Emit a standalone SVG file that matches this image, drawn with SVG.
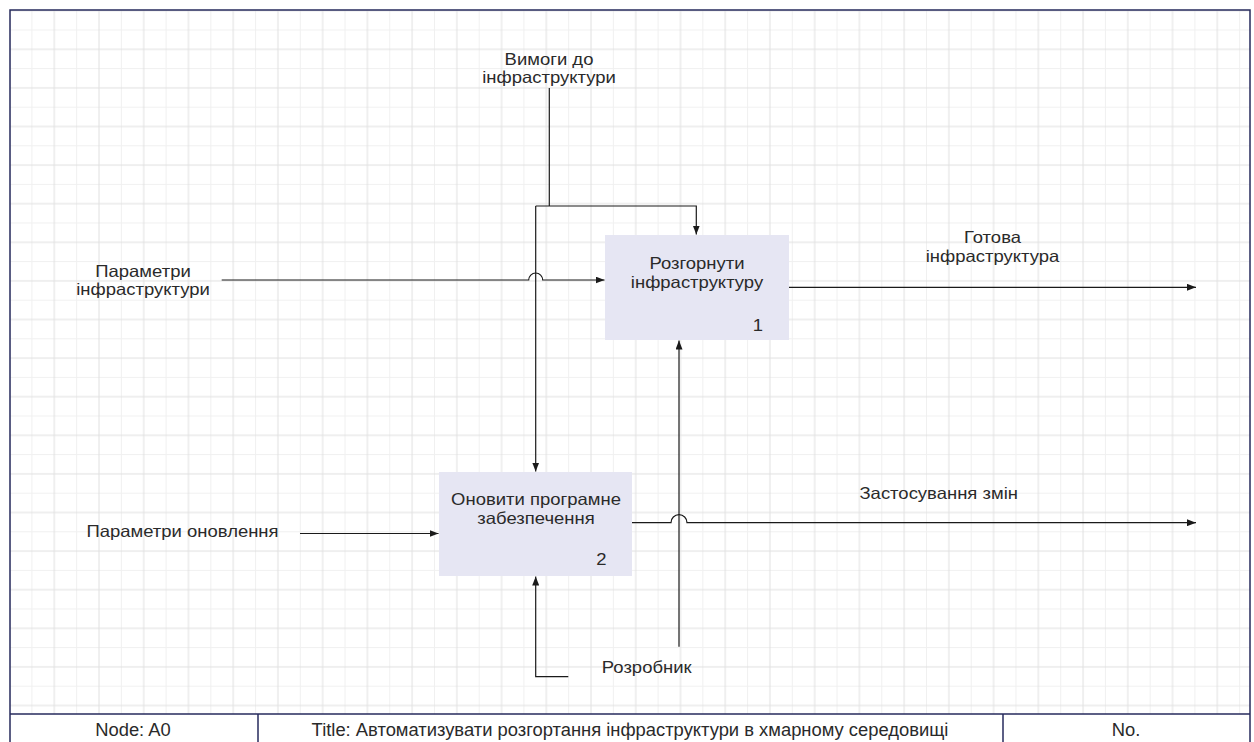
<svg xmlns="http://www.w3.org/2000/svg" width="1254" height="742" viewBox="0 0 1254 742">
  <style>
    .lbl { font-family: "Liberation Sans", Arial, sans-serif; font-size: 16.5px; fill: #2a2a2a; text-anchor: middle; }
    .tb { font-family: "Liberation Sans", Arial, sans-serif; font-size: 17.5px; fill: #2a2a2a; text-anchor: middle; }
    .box { fill: #e6e6f3; stroke: none; }
    .conn { fill: none; stroke: #1a1a1a; stroke-width: 1.2; }
    .frame { fill: none; stroke: #262a5c; stroke-width: 1.5; }
  </style>
  <defs>
    <pattern id="grid" x="31.4" y="29.5" width="44.73" height="38.6" patternUnits="userSpaceOnUse">
      <rect x="0" y="0" width="1" height="38.6" fill="#f0f0f0"/>
      <rect x="0" y="0" width="44.73" height="1" fill="#f0f0f0"/>
      <rect x="22.37" y="0" width="1" height="38.6" fill="#e0e0e0"/>
      <rect x="0" y="19.3" width="44.73" height="1" fill="#e0e0e0"/>
    </pattern>
    <marker id="arrow" markerUnits="userSpaceOnUse" markerWidth="9" markerHeight="7" refX="9" refY="3.5" orient="auto">
      <path d="M0,0 L9,3.5 L0,7 z" fill="#1a1a1a"/>
    </marker>
  </defs>

  <!-- sheet with grid and border -->
  <rect x="0" y="0" width="1254" height="742" fill="#ffffff"/>
  <rect x="10" y="10" width="1240" height="704" fill="url(#grid)"/>
  <rect class="frame" x="10" y="10" width="1240" height="745"/>

  <!-- title bar -->
  <g id="title-bar">
    <line class="frame" x1="10" y1="714" x2="1250" y2="714"/>
    <line class="frame" x1="258" y1="714" x2="258" y2="742"/>
    <line class="frame" x1="1003" y1="714" x2="1003" y2="742"/>
    <text class="tb" transform="translate(133 0) scale(1.05 1)" x="0" y="736">Node: A0</text>
    <text class="tb" transform="translate(630 0) scale(1.05 1)" x="0" y="736">Title: Автоматизувати розгортання інфраструктури в хмарному середовищі</text>
    <text class="tb" transform="translate(1126 0) scale(1.05 1)" x="0" y="736">No.</text>
  </g>

  <!-- activity boxes -->
  <g id="node-1">
    <rect class="box" x="605" y="235" width="184" height="105"/>
    <text class="lbl" transform="translate(697 0) scale(1.12 1)" x="0" y="269.5">Розгорнути</text>
    <text class="lbl" transform="translate(697 0) scale(1.12 1)" x="0" y="288">інфраструктуру</text>
    <text class="lbl" transform="translate(758 0) scale(1.12 1)" x="0" y="331">1</text>
  </g>
  <g id="node-2">
    <rect class="box" x="439" y="472" width="193" height="104"/>
    <text class="lbl" transform="translate(536 0) scale(1.12 1)" x="0" y="505.5">Оновити програмне</text>
    <text class="lbl" transform="translate(536 0) scale(1.12 1)" x="0" y="524.5">забезпечення</text>
    <text class="lbl" transform="translate(601.5 0) scale(1.12 1)" x="0" y="565">2</text>
  </g>

  <!-- arrows -->
  <g id="connectors">
    <path class="conn" d="M549.3,88 V206" stroke-width="2.4"/>
    <path class="conn" d="M535.7,206 H696.3 V234.5" marker-end="url(#arrow)"/>
    <path class="conn" d="M535.7,206 V471.5" marker-end="url(#arrow)"/>
    <path class="conn" d="M221.7,280 H528.7 A7,7 0 0 1 542.7,280 H604.5" marker-end="url(#arrow)"/>
    <path class="conn" d="M789,287.3 H1196" marker-end="url(#arrow)"/>
    <path class="conn" d="M300,533.5 H438.5" marker-end="url(#arrow)"/>
    <path class="conn" d="M632,522.7 H671 A8,8 0 0 1 687,522.7 H1196" marker-end="url(#arrow)"/>
    <path class="conn" d="M679,646.7 V340.5" marker-end="url(#arrow)"/>
    <path class="conn" d="M568.3,676.7 H535.7 V576.5" marker-end="url(#arrow)"/>
  </g>

  <!-- arrow labels -->
  <g id="labels">
    <text class="lbl" transform="translate(549 0) scale(1.12 1)" x="0" y="65">Вимоги до</text>
    <text class="lbl" transform="translate(549 0) scale(1.12 1)" x="0" y="83.5">інфраструктури</text>
    <text class="lbl" transform="translate(143 0) scale(1.12 1)" x="0" y="277">Параметри</text>
    <text class="lbl" transform="translate(143 0) scale(1.12 1)" x="0" y="295.5">інфраструктури</text>
    <text class="lbl" transform="translate(992.5 0) scale(1.12 1)" x="0" y="243.3">Готова</text>
    <text class="lbl" transform="translate(992.5 0) scale(1.12 1)" x="0" y="262.5">інфраструктура</text>
    <text class="lbl" transform="translate(182.5 0) scale(1.12 1)" x="0" y="537">Параметри оновлення</text>
    <text class="lbl" transform="translate(938.7 0) scale(1.12 1)" x="0" y="499">Застосування змін</text>
    <text class="lbl" transform="translate(646.7 0) scale(1.12 1)" x="0" y="672.7">Розробник</text>
  </g>
</svg>
